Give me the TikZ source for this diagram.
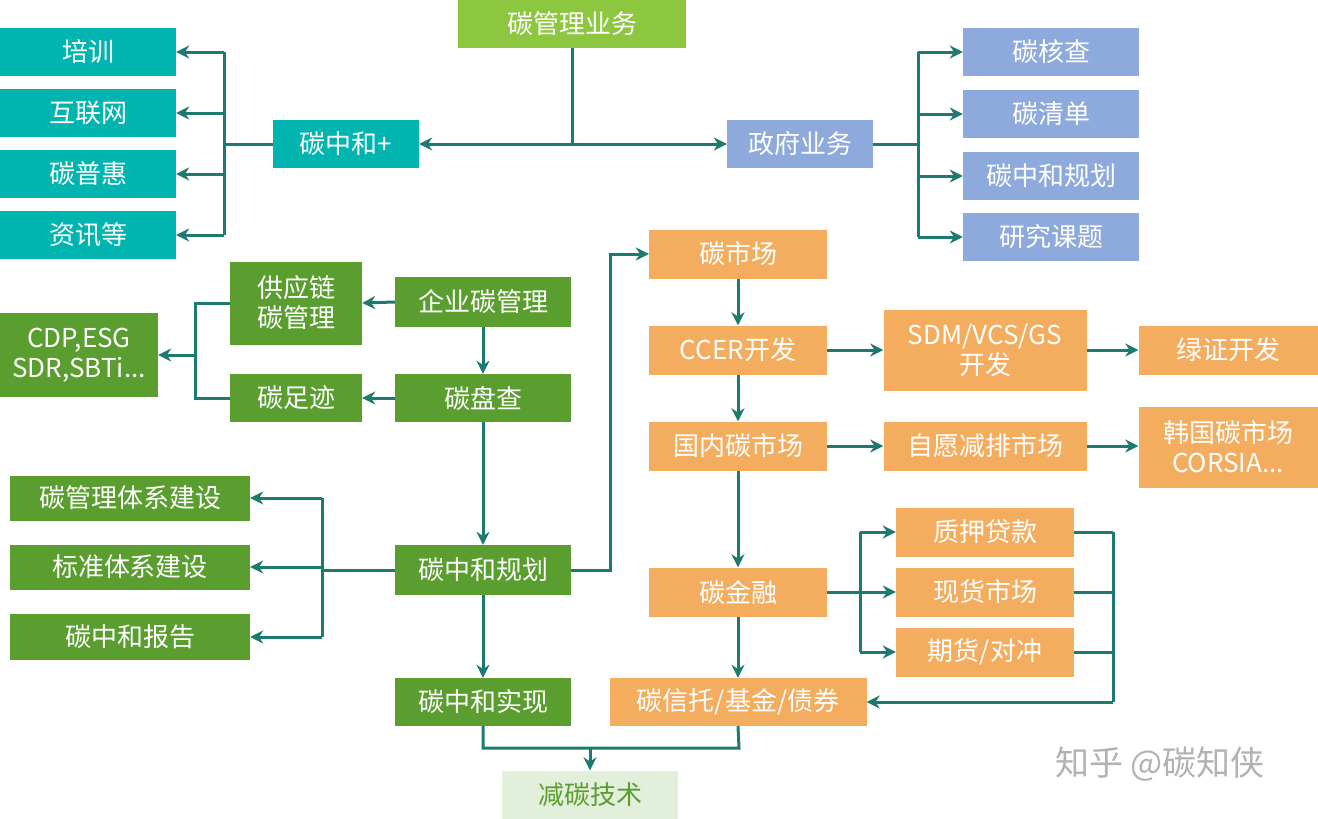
\documentclass[tikz,border=0pt]{standalone}
\usepackage{fontspec}
\setmainfont{Noto Sans CJK SC}
\usetikzlibrary{arrows.meta}
\definecolor{teal1}{HTML}{00B5B0}
\definecolor{blue1}{HTML}{8EA9DB}
\definecolor{lg}{HTML}{8DC63F}
\definecolor{dg}{HTML}{5A9E2F}
\definecolor{org}{HTML}{F4AD5F}
\definecolor{pale}{HTML}{E2EFDA}
\definecolor{ln}{HTML}{1C7A70}
\tikzset{
 b/.style={draw=none,text=white,inner sep=0pt,align=center,font=\fontsize{26}{30}\selectfont},
 a/.style={draw=ln,line width=3pt,-{Stealth[length=13pt,width=13pt]}},
 l/.style={draw=ln,line width=3pt},
}
\newcommand{\bx}[7]{\node[b,fill=#6,minimum width=#4pt,minimum height=#5pt] (#1) at (#2,#3) {#7};}
\begin{document}
\begin{tikzpicture}[x=1pt,y=-1pt]
\useasboundingbox (0,0) rectangle (1318,819);
\bx{mg}{572}{24}{228}{48}{lg}{碳管理业务}
\bx{t1}{88}{52}{176}{48}{teal1}{培训}
\bx{t2}{88}{113}{176}{48}{teal1}{互联网}
\bx{t3}{88}{174}{176}{48}{teal1}{碳普惠}
\bx{t4}{88}{235}{176}{48}{teal1}{资讯等}
\bx{cp}{346}{144}{146}{48}{teal1}{碳中和+}
\bx{gv}{800}{144}{146}{48}{blue1}{政府业务}
\bx{g1}{1051}{52}{176}{48}{blue1}{碳核查}
\bx{g2}{1051}{114}{176}{48}{blue1}{碳清单}
\bx{g3}{1051}{176}{176}{48}{blue1}{碳中和规划}
\bx{g4}{1051}{237}{176}{48}{blue1}{研究课题}
\bx{sc}{296}{303}{132}{83}{dg}{供应链\\碳管理}
\bx{qy}{483}{302}{176}{50}{dg}{企业碳管理}
\bx{cdp}{79}{355}{158}{84}{dg}{CDP,ESG\\SDR,SBTi...}
\bx{zj}{296}{398}{132}{48}{dg}{碳足迹}
\bx{pc}{483}{398}{176}{48}{dg}{碳盘查}
\bx{h1}{130}{498}{240}{45}{dg}{碳管理体系建设}
\bx{h2}{130}{567}{240}{45}{dg}{标准体系建设}
\bx{h3}{130}{637}{240}{46}{dg}{碳中和报告}
\bx{gh}{483}{570}{176}{50}{dg}{碳中和规划}
\bx{sx}{483}{702}{176}{48}{dg}{碳中和实现}
\bx{js}{590}{795}{176}{49}{pale}{\textcolor{dg}{减碳技术}}
\bx{sc1}{738}{254}{178}{49}{org}{碳市场}
\bx{cc}{738}{350}{178}{49}{org}{CCER开发}
\bx{gn}{738}{446}{178}{49}{org}{国内碳市场}
\bx{jr}{738}{592}{178}{49}{org}{碳金融}
\bx{xt}{738}{702}{257}{48}{org}{碳信托/基金/债券}
\bx{sdm}{985}{350}{203}{81}{org}{SDM/VCS/GS\\开发}
\bx{lz}{1228}{350}{179}{49}{org}{绿证开发}
\bx{zy}{985}{446}{203}{49}{org}{自愿减排市场}
\bx{hg}{1228}{447}{179}{81}{org}{韩国碳市场\\CORSIA...}
\bx{f1}{985}{532}{178}{49}{org}{质押贷款}
\bx{f2}{985}{592}{178}{49}{org}{现货市场}
\bx{f3}{985}{652}{178}{49}{org}{期货/对冲}
% top
\draw[l] (mg.south) -- (572,144);
\draw[a,{Stealth[length=13pt,width=13pt]}-{Stealth[length=13pt,width=13pt]}] (cp.east) -- (gv.west);
\draw[l] (cp.west) -- (224,144);
\draw[l] (224,52) -- (224,235);
\foreach \n in {t1,t2,t3,t4} \draw[a] (224,0|-\n) -- (\n.east);
\draw[l] (gv.east) -- (918,144);
\draw[l] (918,52) -- (918,237);
\foreach \n in {g1,g2,g3,g4} \draw[a] (918,0|-\n) -- (\n.west);
% enterprise
\draw[a] (qy.west) -- (sc.east);
\draw[a] (qy.south) -- (pc.north);
\draw[a] (pc.west) -- (zj.east);
\draw[l] (sc.west) -- (195,303) -- (195,398) -- (zj.west);
\draw[a] (195,355) -- (cdp.east);
\draw[a] (pc.south) -- (gh.north);
\draw[a] (gh.south) -- (sx.north);
\draw[l] (gh.west) -- (322,570);
\draw[l] (322,498) -- (322,637);
\foreach \n in {h1,h2,h3} \draw[a] (322,0|-\n) -- (\n.east);
\draw[a] (gh.east) -- (610,570) -- (610,254) -- (sc1.west);
% market
\draw[a] (sc1.south) -- (cc.north);
\draw[a] (cc.south) -- (gn.north);
\draw[a] (gn.south) -- (jr.north);
\draw[a] (jr.south) -- (xt.north);
\draw[a] (cc.east) -- (sdm.west);
\draw[a] (sdm.east) -- (lz.west);
\draw[a] (gn.east) -- (zy.west);
\draw[a] (zy.east) -- (zy.east-|hg.west);
\draw[l] (jr.east) -- (860,592);
\draw[l] (860,532) -- (860,652);
\foreach \n in {f1,f2,f3} \draw[a] (860,0|-\n) -- (\n.west);
\foreach \n in {f1,f2,f3} \draw[l] (\n.east) -- (1113,0|-\n);
\draw[l] (1113,532) -- (1113,702);
\draw[a] (1113,702) -- (xt.east);
% bottom
\draw[l] (sx.south) -- (483,748) -- (739,748) -- (xt.south);
\draw[a] (590,748) -- (js.north);
\node[text=gray!60,font=\fontsize{34}{40}\selectfont] (wm) at (1160,764) {知乎 @碳知侠};
\end{tikzpicture}
\end{document}
